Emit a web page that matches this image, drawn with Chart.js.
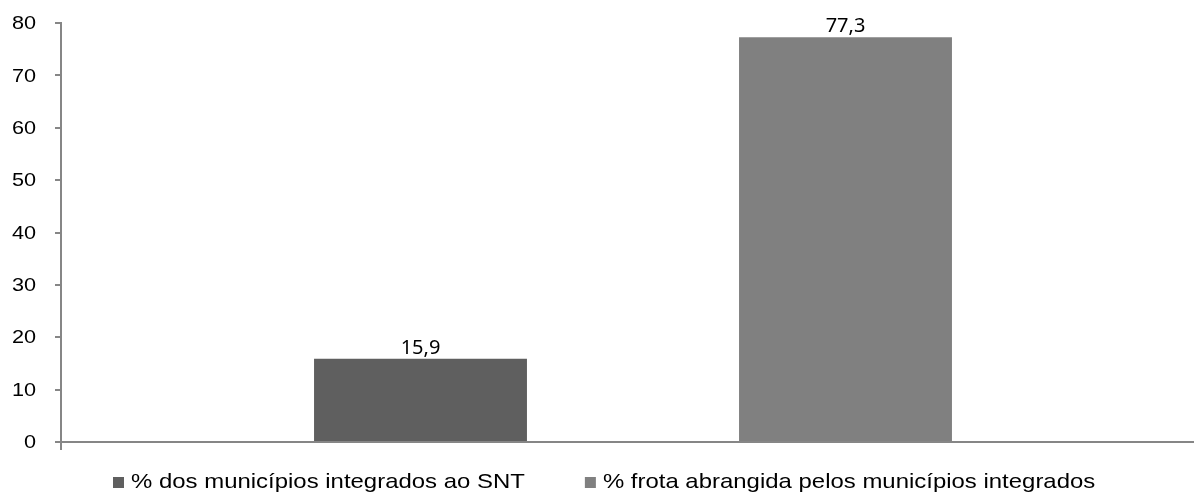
<!DOCTYPE html>
<html>
<head>
<meta charset="utf-8">
<script src="https://cdn.jsdelivr.net/npm/chart.js@4"></script>
<style>
  html, body { margin: 0; padding: 0; background: #fff; overflow: hidden; }
  #wrap { width: 1194px; height: 495px; overflow: hidden; }
</style>
</head>
<body>
<div id="wrap"><canvas id="myChart" width="1205" height="495"></canvas></div>
<script>
const categories = [""];
const seriesNames = ["% dos municípios integrados ao SNT", "% frota abrangida pelos municípios integrados"];
const municipiosValues = [15.9];
const frotaValues = [77.3];
const barColors = ["#5f5f5f", "#808080"];
const yTicks = [0, 10, 20, 30, 40, 50, 60, 70, 80];

const axisColor = "#868686";
const stretch = 1.14; // source text is a bit wider than Arial

// value labels above bars, comma decimals
const valueLabels = {
  id: 'valueLabels',
  afterDatasetsDraw(chart) {
    const ctx = chart.ctx;
    ctx.save();
    ctx.font = '20px "Noto Sans", sans-serif';
    ctx.fillStyle = '#000';
    ctx.textAlign = 'center';
    ctx.textBaseline = 'alphabetic';
    chart.data.datasets.forEach((ds, i) => {
      chart.getDatasetMeta(i).data.forEach((bar, j) => {
        const txt = ds.data[j].toString().replace('.', ',');
        ctx.fillText(txt, bar.x, bar.y - 5);
      });
    });
    ctx.restore();
  }
};

// y tick labels, drawn slightly wide
const yLabels = {
  id: 'yLabels',
  afterDraw(chart) {
    const ctx = chart.ctx;
    const y = chart.scales.y;
    ctx.save();
    ctx.font = '19px "Liberation Sans", Arial, sans-serif';
    ctx.fillStyle = '#000';
    ctx.textAlign = 'right';
    ctx.textBaseline = 'middle';
    y.ticks.forEach(t => {
      ctx.save();
      ctx.translate(36, y.getPixelForValue(t.value) + 1);
      ctx.scale(stretch, 1);
      ctx.fillText(String(t.value), 0, 0);
      ctx.restore();
    });
    ctx.restore();
  }
};

// legend drawn at bottom
const bottomLegend = {
  id: 'bottomLegend',
  afterDraw(chart) {
    const ctx = chart.ctx;
    ctx.save();
    ctx.font = '21px "Liberation Sans", Arial, sans-serif';
    ctx.textBaseline = 'middle';
    ctx.textAlign = 'left';
    let x = 113;
    const y = 482;
    chart.data.datasets.forEach(ds => {
      ctx.fillStyle = ds.backgroundColor;
      ctx.fillRect(x, y - 5, 11, 11);
      ctx.fillStyle = '#000';
      ctx.save();
      ctx.translate(x + 18, y);
      ctx.scale(stretch, 1);
      ctx.fillText(ds.label, 0, 0);
      ctx.restore();
      x += 18 + ctx.measureText(ds.label).width * stretch + 60;
    });
    ctx.restore();
  }
};

const ctx = document.getElementById('myChart').getContext('2d');

new Chart(ctx, {
  type: 'bar',
  data: {
    labels: categories,
    datasets: [
      { label: seriesNames[0], data: municipiosValues, backgroundColor: barColors[0] },
      { label: seriesNames[1], data: frotaValues, backgroundColor: barColors[1] }
    ]
  },
  options: {
    responsive: false,
    maintainAspectRatio: false,
    animation: false,
    categoryPercentage: 0.743,
    barPercentage: 0.501,
    layout: {
      padding: { top: 23, right: 0, bottom: 45, left: 0 }
    },
    plugins: {
      legend: { display: false },
      tooltip: { enabled: false }
    },
    scales: {
      x: {
        grid: {
          display: true,
          drawOnChartArea: false,
          drawTicks: true,
          tickLength: 8,
          color: axisColor,
          lineWidth: 2,
          offset: true
        },
        border: { color: axisColor, width: 2 },
        ticks: { display: false },
        afterFit(scale) { scale.height = 8; }
      },
      y: {
        min: 0,
        max: 80,
        afterBuildTicks(scale) { scale.ticks = yTicks.map(v => ({ value: v })); },
        grid: {
          drawOnChartArea: false,
          drawTicks: true,
          tickLength: 6,
          color: axisColor,
          lineWidth: 2
        },
        border: { color: axisColor, width: 2 },
        ticks: {
          padding: 0,
          color: 'rgba(0,0,0,0)',
          font: { size: 2 }
        },
        afterFit(scale) { scale.width = 61; }
      }
    }
  },
  plugins: [valueLabels, yLabels, bottomLegend]
});
</script>
</body>
</html>
